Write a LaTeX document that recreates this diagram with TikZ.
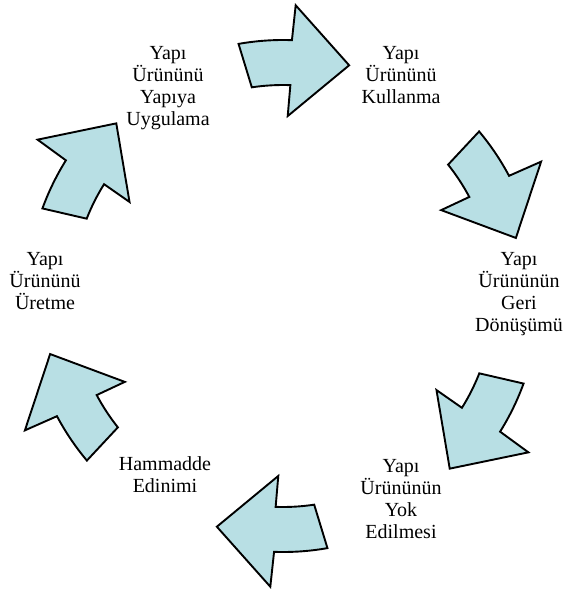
\documentclass[tikz,border=0pt]{standalone}
\usepackage{fontspec}
\setmainfont{Liberation Serif}
\definecolor{arrowfill}{RGB}{184,223,228}
\tikzset{
  cyclearrow/.style={draw=black, line width=1.9pt, line join=miter, fill=arrowfill},
  % base anchor sits on the baseline of the last line
  stagelabel/.style={align=center, inner sep=0pt, anchor=base,
    font=\fontsize{20}{22}\selectfont}
}
% one curved arrow of the cycle, drawn around the centre of the ring
\newcommand{\ringarrow}[2]{%
  \begin{scope}[shift={(283pt,-296pt)}, rotate=#1]
    \path[cyclearrow] (100:256pt) arc[start angle=100, end angle=88, radius=256pt]
      -- (87.5:291pt) -- (74:240pt) -- (88.5:180pt)
      -- (88:211pt) arc[start angle=88, end angle=98.5, radius=211pt]
      -- cycle;
    \coordinate (#2) at (88:235pt);
  \end{scope}}
\begin{document}
\begin{tikzpicture}
\useasboundingbox (0,0) rectangle (563pt,-592pt);
\ringarrow{0}{a1}
\ringarrow{-60}{a2}
\ringarrow{-120}{a3}
\ringarrow{-180}{a4}
\ringarrow{-240}{a5}
\ringarrow{-300}{a6}
\node[stagelabel] (apply)   at (168pt,-125.5pt) {Yapı\\Ürününü\\Yapıya\\Uygulama};
\node[stagelabel] (use)     at (401pt,-103.5pt) {Yapı\\Ürününü\\Kullanma};
\node[stagelabel] (recycle) at (519pt,-331pt)   {Yapı\\Ürününün\\Geri\\Dönüşümü};
\node[stagelabel] (dispose) at (401pt,-538pt)   {Yapı\\Ürününün\\Yok\\Edilmesi};
\node[stagelabel] (raw)     at (165pt,-492pt)   {Hammadde\\Edinimi};
\node[stagelabel] (produce) at (45pt,-309pt)    {Yapı\\Ürününü\\Üretme};
\end{tikzpicture}
\end{document}
